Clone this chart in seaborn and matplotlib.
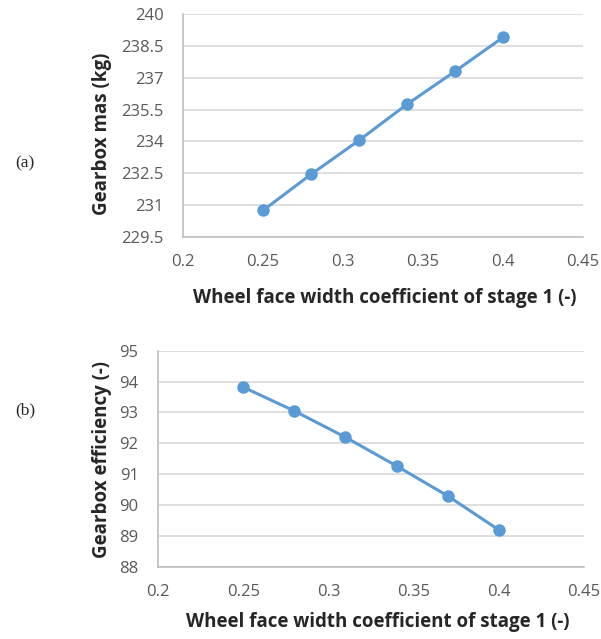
import matplotlib
matplotlib.use("Agg")
import matplotlib.pyplot as plt
import seaborn as sns
import pandas as pd
import numpy as np

width_coef = [0.25, 0.28, 0.31, 0.34, 0.37, 0.40]
gearbox_mass = [230.75, 232.45, 234.05, 235.75, 237.3, 238.9]
gearbox_eff = [93.82, 93.05, 92.2, 91.27, 90.3, 89.2]

x_ticks = [0.2, 0.25, 0.3, 0.35, 0.4, 0.45]
x_tick_labels = ["0.2", "0.25", "0.3", "0.35", "0.4", "0.45"]
mass_ticks = [229.5, 231, 232.5, 234, 235.5, 237, 238.5, 240]
mass_tick_labels = ["229.5", "231", "232.5", "234", "235.5", "237", "238.5", "240"]
eff_ticks = [88, 89, 90, 91, 92, 93, 94, 95]
eff_tick_labels = [str(v) for v in eff_ticks]

xlabel = "Wheel face width coefficient of stage 1 (-)"

sns.set_theme(style="white")
plt.rcParams['font.family'] = ['Open Sans', 'DejaVu Sans']

line_color = "#5B9BD5"
grid_color = "#D9D9D9"
spine_color = "#BFBFBF"
tick_color = "#595959"

fig = plt.figure(figsize=(6.01, 6.39), dpi=100)
ax1 = fig.add_axes([0.3045, 0.6291, 0.6656, 0.349])
ax2 = fig.add_axes([0.2629, 0.1127, 0.7088, 0.3385])

df1 = pd.DataFrame({"x": width_coef, "y": gearbox_mass})
df2 = pd.DataFrame({"x": width_coef, "y": gearbox_eff})

configs = [
    (ax1, df1, mass_ticks, mass_tick_labels, "Gearbox mas (kg)", (-0.203, 0.464), (0.505, -0.274)),
    (ax2, df2, eff_ticks, eff_tick_labels, "Gearbox efficiency (-)", (-0.132, 0.497), (0.516, -0.254)),
]

for ax, df, yt, ytl, ylab, ypos, xpos in configs:
    sns.lineplot(data=df, x="x", y="y", ax=ax, color=line_color, linewidth=2.2,
                 marker="o", markersize=9, markeredgewidth=0, zorder=3)
    ax.set_xlim(x_ticks[0], x_ticks[-1])
    ax.set_ylim(yt[0], yt[-1])
    ax.set_xticks(x_ticks)
    ax.set_xticklabels(x_tick_labels)
    ax.set_yticks(yt)
    ax.set_yticklabels(ytl)
    ax.yaxis.grid(True, color=grid_color, linewidth=1.2)
    ax.xaxis.grid(False)
    ax.set_axisbelow(True)
    for s in ["top", "right"]:
        ax.spines[s].set_visible(False)
    for s in ["left", "bottom"]:
        ax.spines[s].set_color(spine_color)
        ax.spines[s].set_linewidth(1.2)
    ax.tick_params(axis="both", length=0, labelsize=12, labelcolor=tick_color)
    ax.tick_params(axis="x", pad=12)
    ax.tick_params(axis="y", pad=14)
    ax.set_xlabel(xlabel, fontsize=13.5, fontweight="bold", color="#262626", va="center")
    ax.set_ylabel(ylab, fontsize=13.5, fontweight="bold", color="#262626", va="center")
    ax.yaxis.set_label_coords(*ypos)
    ax.xaxis.set_label_coords(*xpos)

fig.text(0.025, 1 - 163 / 639, "(a)", fontsize=12.5, family="Liberation Serif", va="center")
fig.text(0.025, 1 - 410 / 639, "(b)", fontsize=12.5, family="Liberation Serif", va="center")

fig.savefig("out.png", dpi=100)
